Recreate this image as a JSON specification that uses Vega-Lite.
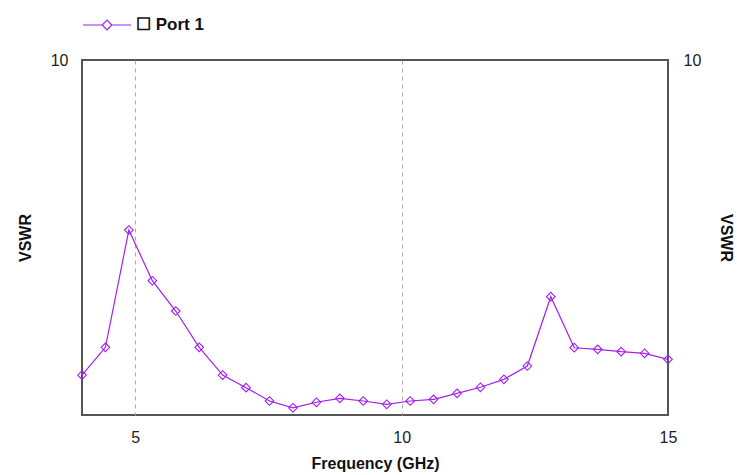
{
  "$schema": "https://vega.github.io/schema/vega-lite/v6.json",
  "width": 586,
  "height": 355,
  "autosize": {"type": "none"},
  "padding": {"left": 82, "top": 60, "right": 69, "bottom": 60},
  "background": "white",
  "config": {
    "view": {"stroke": "#555555", "strokeWidth": 2},
    "axis": {
      "labelFont": "Liberation Sans",
      "labelFontSize": 16,
      "labelColor": "#222222",
      "titleFont": "Liberation Sans",
      "titleFontSize": 16,
      "titleFontWeight": "bold",
      "titleColor": "#111111",
      "domain": false,
      "ticks": false
    }
  },
  "data": {
    "values": [
      {"f": 4.00, "vswr": 1.296, "series": "Port 1"},
      {"f": 4.44, "vswr": 1.551, "series": "Port 1"},
      {"f": 4.88, "vswr": 3.32, "series": "Port 1"},
      {"f": 5.32, "vswr": 2.389, "series": "Port 1"},
      {"f": 5.76, "vswr": 1.963, "series": "Port 1"},
      {"f": 6.20, "vswr": 1.551, "series": "Port 1"},
      {"f": 6.64, "vswr": 1.296, "series": "Port 1"},
      {"f": 7.08, "vswr": 1.194, "series": "Port 1"},
      {"f": 7.52, "vswr": 1.095, "series": "Port 1"},
      {"f": 7.96, "vswr": 1.048, "series": "Port 1"},
      {"f": 8.40, "vswr": 1.086, "series": "Port 1"},
      {"f": 8.84, "vswr": 1.114, "series": "Port 1"},
      {"f": 9.28, "vswr": 1.095, "series": "Port 1"},
      {"f": 9.72, "vswr": 1.072, "series": "Port 1"},
      {"f": 10.16, "vswr": 1.095, "series": "Port 1"},
      {"f": 10.60, "vswr": 1.107, "series": "Port 1"},
      {"f": 11.04, "vswr": 1.151, "series": "Port 1"},
      {"f": 11.48, "vswr": 1.197, "series": "Port 1"},
      {"f": 11.92, "vswr": 1.26, "series": "Port 1"},
      {"f": 12.36, "vswr": 1.374, "series": "Port 1"},
      {"f": 12.80, "vswr": 2.154, "series": "Port 1"},
      {"f": 13.24, "vswr": 1.547, "series": "Port 1"},
      {"f": 13.68, "vswr": 1.531, "series": "Port 1"},
      {"f": 14.12, "vswr": 1.508, "series": "Port 1"},
      {"f": 14.56, "vswr": 1.492, "series": "Port 1"},
      {"f": 15.00, "vswr": 1.435, "series": "Port 1"}
    ]
  },
  "layer": [
    {
      "mark": {
        "type": "line",
        "strokeWidth": 1.2,
        "point": {"shape": "diamond", "filled": false, "size": 75, "strokeWidth": 1.1}
      },
      "encoding": {
        "x": {
          "field": "f",
          "type": "quantitative",
          "title": "Frequency (GHz)",
          "scale": {"domain": [4, 15], "nice": false, "zero": false},
          "axis": {
            "values": [5, 10, 15],
            "grid": true,
            "gridDash": [4, 4],
            "gridColor": "#aaaaaa",
            "gridWidth": 1,
            "gridOpacity": {"condition": {"test": "datum.value >= 15", "value": 0}, "value": 1},
            "labelPadding": 14,
            "titlePadding": 10,
            "labelFlush": false
          }
        },
        "y": {
          "field": "vswr",
          "type": "quantitative",
          "title": "VSWR",
          "scale": {"type": "log", "domain": [1, 10], "nice": false},
          "axis": {
            "orient": "left",
            "values": [10],
            "grid": false,
            "labelPadding": 14,
            "titlePadding": 17
          }
        },
        "color": {
          "field": "series",
          "type": "nominal",
          "scale": {"domain": ["Port 1"], "range": ["#a020f0"]},
          "legend": {
            "orient": "none",
            "legendX": 0,
            "legendY": -60,
            "title": null,
            "symbolType": "M-1,0H-0.2M0.2,0H1M0,-0.2L0.2,0L0,0.2L-0.2,0Z",
            "symbolSize": 2304,
            "symbolStrokeWidth": 1.2,
            "symbolFillColor": "transparent",
            "symbolStrokeColor": "#a020f0",
            "labelExpr": "'☐ ' + datum.label",
            "labelFont": "Liberation Sans",
            "labelFontSize": 17,
            "labelFontWeight": "bold",
            "labelColor": "#111111",
            "labelOffset": 4
          }
        }
      }
    },
    {
      "mark": {"type": "line", "strokeOpacity": 0},
      "encoding": {
        "x": {"field": "f", "type": "quantitative"},
        "y": {
          "field": "vswr",
          "type": "quantitative",
          "title": "VSWR",
          "scale": {"type": "log", "domain": [1, 10], "nice": false},
          "axis": {
            "orient": "right",
            "values": [10],
            "grid": false,
            "labelPadding": 15,
            "titlePadding": 17
          }
        }
      }
    }
  ],
  "resolve": {"scale": {"y": "independent"}}
}
